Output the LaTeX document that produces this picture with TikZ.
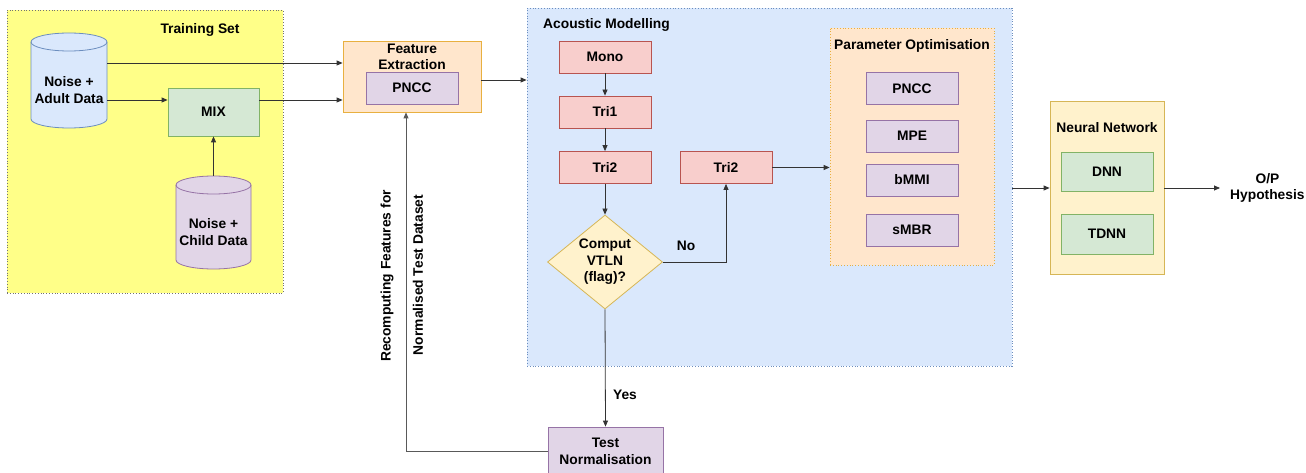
\documentclass[tikz,border=0pt]{standalone}
\usepackage{fontspec}
\setmainfont{Liberation Sans}
\usetikzlibrary{arrows.meta,shapes.geometric,calc}
\definecolor{yel}{HTML}{FFFF88}
\definecolor{bluef}{HTML}{DAE8FC}
\definecolor{blued}{HTML}{6C8EBF}
\definecolor{orf}{HTML}{FFE6CC}
\definecolor{ord}{HTML}{E8B040}
\definecolor{redf}{HTML}{F8CECC}
\definecolor{redd}{HTML}{B85450}
\definecolor{purf}{HTML}{E1D5E7}
\definecolor{purd}{HTML}{9673A6}
\definecolor{grnf}{HTML}{D5E8D4}
\definecolor{grnd}{HTML}{82B366}
\definecolor{nnf}{HTML}{FFF2CC}
\definecolor{nnd}{HTML}{D6B656}
\tikzset{
  lbl/.style={font=\fontsize{13.8}{16.5}\selectfont\bfseries, align=center, inner sep=1pt},
  box/.style={lbl, draw, line width=0.8pt, minimum width=92pt, minimum height=32pt, inner sep=0pt},
  redbox/.style={box, fill=redf, draw=redd},
  purbox/.style={box, fill=purf, draw=purd},
  grnbox/.style={box, fill=grnf, draw=grnd},
  group/.style={inner sep=0pt, line width=0.8pt},
  arr/.style={draw=black!80, line width=0.8pt, -{Triangle[length=6pt,width=5pt]}},
  ln/.style={draw=black!65, line width=0.8pt},
}
\begin{document}
\begin{tikzpicture}[x=1pt,y=1pt]
\useasboundingbox (0,0) rectangle (1306,-473);
% groups
\node[group, fill=yel, draw=black!55, dotted, minimum width=276pt, minimum height=283pt] (train) at (145,-151.5) {};
\node[lbl] (trainT) at (200,-30) {Training Set};
\node[group, fill=bluef, draw=blued, dotted, minimum width=485pt, minimum height=358pt] (acou) at (769.5,-187) {};
\node[lbl, anchor=west] (acouT) at (542,-25) {Acoustic Modelling};
\node[group, fill=orf, draw=ord, dotted, minimum width=164pt, minimum height=237pt] (param) at (912,-146.5) {};
\node[lbl] (paramT) at (912,-46) {Parameter Optimisation};
\node[group, fill=nnf, draw=nnd, minimum width=114pt, minimum height=173pt] (nn) at (1107,-187.5) {};
\node[lbl] (nnT) at (1107,-128) {Neural Network};
\node[group, fill=orf, draw=ord, minimum width=138pt, minimum height=71pt] (fe) at (412,-76.5) {};
\node[lbl] (feT) at (412,-57) {Feature\\Extraction};
% cylinders
\draw[fill=bluef, draw=blued, line width=0.8pt] (31,-42) -- (31,-119) arc(180:360:38pt and 9pt) -- (107,-42) arc(0:180:38pt and 9pt) -- cycle;
\draw[draw=blued, line width=0.8pt] (31,-42) arc(180:360:38pt and 9pt);
\node[group, minimum width=76pt, minimum height=95pt] (adult) at (69,-80.5) {};
\node[lbl] (adultT) at (69,-90) {Noise +\\Adult Data};
\draw[fill=purf, draw=purd, line width=0.8pt] (176,-185) -- (176,-260) arc(180:360:37.5pt and 9pt) -- (251,-185) arc(0:180:37.5pt and 9pt) -- cycle;
\draw[draw=purd, line width=0.8pt] (176,-185) arc(180:360:37.5pt and 9pt);
\node[group, minimum width=75pt, minimum height=93pt] (child) at (213.5,-222.5) {};
\node[lbl] (childT) at (213.5,-232) {Noise +\\Child Data};
% boxes
\node[grnbox, minimum width=91pt, minimum height=48pt] (mix) at (213.5,-112) {MIX};
\node[purbox] (fepncc) at (412,-88) {PNCC};
\node[redbox] (mono) at (605,-57) {Mono};
\node[redbox] (tri1) at (605,-112) {Tri1};
\node[redbox] (tri2) at (605,-167.5) {Tri2};
\node[redbox] (tri2r) at (726,-167.5) {Tri2};
\node[lbl, draw=nnd, fill=nnf, line width=0.8pt, diamond, aspect=1.22, minimum width=115pt, minimum height=94pt, inner sep=0pt] (dia) at (605,-262) {Comput\\VTLN\\(flag)?};
\node[purbox] (pncc) at (912,-88.5) {PNCC};
\node[purbox] (mpe) at (912,-136) {MPE};
\node[purbox] (bmmi) at (912,-180) {bMMI};
\node[purbox] (smbr) at (912,-230) {sMBR};
\node[grnbox, minimum height=39pt] (dnn) at (1107,-171.5) {DNN};
\node[grnbox, minimum height=40pt] (tdnn) at (1107,-234) {TDNN};
\node[purbox, minimum width=115pt, minimum height=49pt] (test) at (605.5,-451.5) {Test\\Normalisation};
\node[lbl, anchor=west] (out) at (1229,-188) {O/P\\Hypothesis};
% connectors
\draw[arr] ($(adult.east)+(0,17.5)$) -- ($(adult.east -| fe.west)+(0,17.5)$);
\draw[arr] ($(adult.east)+(0,-19.5)$) -- ($(adult.east -| mix.west)+(0,-19.5)$);
\draw[arr] ($(mix.east)+(0,12)$) -- ($(mix.east -| fe.west)+(0,12)$);
\draw[arr] (child.north) -- (mix.south);
\draw[arr] ($(fe.east)+(0,-3.5)$) -- ($(fe.east -| acou.west)+(0,-3.5)$);
\draw[arr] (mono) -- (tri1);
\draw[arr] (tri1) -- (tri2);
\draw[arr] (tri2) -- (dia);
\draw[arr] (dia.east) -| (tri2r.south);
\draw[arr] (tri2r.east) -- (tri2r.east -| param.west);
\draw[arr] (acou.east |- 0,-188) -- (nn.west |- 0,-188);
\draw[arr] (nn.east |- 0,-188) -- (1220,-188);
\draw[arr] (dia.south) -- (test.north);
\draw[ln, -{Triangle[length=6pt,width=5pt]}] (test.west) -| ($(fe.south)+(-6,0)$);
% labels
\node[lbl] (no) at (686,-246) {No};
\node[lbl] (yes) at (625,-395) {Yes};
\node[lbl, rotate=90] (rec1) at (387,-276) {Recomputing Features for};
\node[lbl, rotate=90] (rec2) at (418,-275) {Normalised Test Dataset};
\end{tikzpicture}
\end{document}
